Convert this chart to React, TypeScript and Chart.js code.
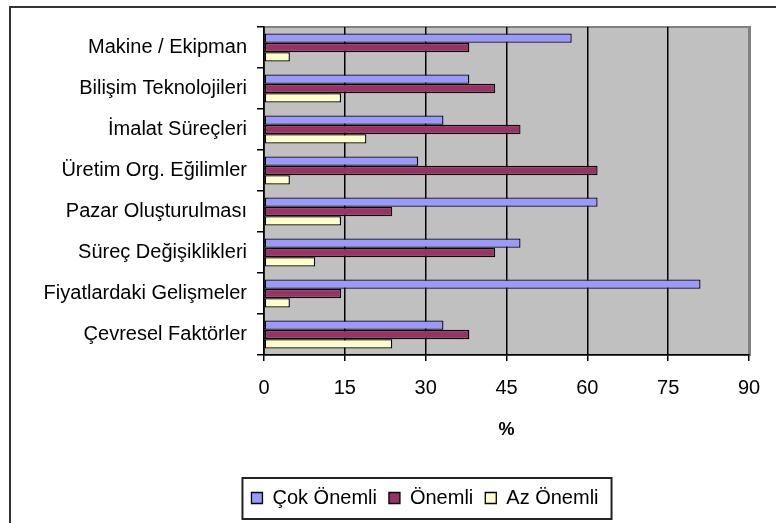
import React, { useEffect, useRef } from "react";
import { Chart, registerables } from "chart.js";

Chart.register(...registerables);

const categories = [
  "Makine / Ekipman",
  "Bilişim Teknolojileri",
  "İmalat Süreçleri",
  "Üretim Org. Eğilimler",
  "Pazar Oluşturulması",
  "Süreç Değişiklikleri",
  "Fiyatlardaki Gelişmeler",
  "Çevresel Faktörler",
];

const seriesNames = ["Çok Önemli", "Önemli", "Az Önemli"];
const cokOnemli = [57.1, 38.1, 33.3, 28.6, 61.9, 47.6, 81.0, 33.3];
const onemli = [38.1, 42.9, 47.6, 61.9, 23.8, 42.9, 14.3, 38.1];
const azOnemli = [4.8, 14.3, 19.0, 4.8, 14.3, 9.5, 4.8, 23.8];

const xMin = 0;
const xMax = 90;
const xStep = 15;
const xTitle = "%";

const FONT = "'Liberation Sans', Arial, sans-serif";
const LEGEND_PAD = 12;
const LEGEND_FONT = 20;

const plotBgPlugin = {
  id: "plotBg",
  beforeDraw(chart: any) {
    const { ctx, chartArea } = chart;
    if (!chartArea) return;
    ctx.save();
    ctx.fillStyle = "#C0C0C0";
    ctx.fillRect(chartArea.left, chartArea.top, chartArea.right - chartArea.left, chartArea.bottom - chartArea.top);
    ctx.strokeStyle = "#808080";
    ctx.lineWidth = 2;
    ctx.strokeRect(chartArea.left, chartArea.top, chartArea.right - chartArea.left + 1, chartArea.bottom - chartArea.top);
    ctx.restore();
  },
};

// shift the legend's horizontal span so its centre sits where the reference has it
const legendShiftPlugin = {
  id: "legendShift",
  afterLayout(chart: any) {
    const lg = chart.legend;
    if (!lg) return;
    lg.left = 101;
    lg.right = 749;
    lg.width = lg.right - lg.left;
  },
};

const legendBoxPlugin = {
  id: "legendBox",
  afterDraw(chart: any) {
    const lg = chart.legend;
    if (!lg || !lg.lineWidths) return;
    const lw = lg.lineWidths[0];
    const startX = (lg.left + LEGEND_PAD + lg.right - lw) / 2;
    const left = startX - 9;
    const right = startX + lw - LEGEND_PAD + 13;
    const cy = lg.top + LEGEND_PAD + LEGEND_FONT / 2;
    const top = cy - 20;
    const bottom = cy + 21;
    const { ctx } = chart;
    ctx.save();
    ctx.strokeStyle = "#222";
    ctx.lineWidth = 2;
    ctx.strokeRect(left, top, right - left, bottom - top);
    ctx.restore();
  },
};

export default function App() {
  const ref = useRef<HTMLCanvasElement | null>(null);

  useEffect(() => {
    if (!ref.current) return;
    const chart = new Chart(ref.current, {
      type: "bar",
      data: {
        labels: categories,
        datasets: [
          { label: seriesNames[0], data: cokOnemli, backgroundColor: "#9999FF" },
          { label: seriesNames[1], data: onemli, backgroundColor: "#993366" },
          { label: seriesNames[2], data: azOnemli, backgroundColor: "#FFFFCC" },
        ].map((d) => ({
          ...d,
          borderColor: "#000",
          borderWidth: 1.3,
          borderSkipped: false,
          categoryPercentage: 0.68,
          barPercentage: 1,
        })),
      },
      options: {
        indexAxis: "y",
        responsive: false,
        animation: false,
        layout: { padding: { left: 16, right: 27, top: 27, bottom: 5 } },
        plugins: {
          tooltip: { enabled: false },
          legend: {
            position: "bottom",
            labels: {
              boxWidth: 11,
              boxHeight: 11,
              padding: LEGEND_PAD,
              color: "#000",
              font: { family: FONT, size: LEGEND_FONT },
            },
          },
        },
        scales: {
          x: {
            type: "linear",
            min: xMin,
            max: xMax,
            ticks: { stepSize: xStep, color: "#000", padding: 15, font: { family: FONT, size: 20 } },
            grid: {
              color: (c: any) => (c.tick && c.tick.value === xMax ? "#808080" : "#000"),
              lineWidth: 1.5,
              tickLength: 6,
              tickColor: "#000",
              tickWidth: 1.5,
            },
            border: { display: true, color: "#000", width: 1.5 },
            title: {
              display: true,
              text: xTitle,
              color: "#000",
              font: { family: FONT, size: 18, weight: "bold" },
              padding: { top: 35, bottom: 35 },
            },
            afterFit: (scale: any) => {
              scale.height = 121;
            },
          },
          y: {
            type: "category",
            ticks: { color: "#000", padding: 10, font: { family: FONT, size: 20 } },
            grid: {
              offset: true,
              drawOnChartArea: false,
              drawTicks: true,
              tickLength: 7,
              color: "#000",
              lineWidth: 1.5,
            },
            border: { display: true, color: "#000", width: 1.5 },
            afterFit: (scale: any) => {
              scale.width = 248;
            },
          },
        },
      },
      plugins: [plotBgPlugin, legendShiftPlugin, legendBoxPlugin],
    } as any);
    return () => chart.destroy();
  }, []);

  return (
    <div style={{ position: "fixed", left: 0, top: 0, width: 776, height: 523, overflow: "hidden", background: "#fff" }}>
      <div
        style={{
          position: "absolute",
          left: 9,
          top: 6,
          width: 900,
          height: 700,
          borderLeft: "2px solid #333",
          borderTop: "2px solid #333",
        }}
      />
      <canvas ref={ref} width={776} height={523} style={{ position: "absolute", left: 0, top: 0, width: 776, height: 523 }} />
    </div>
  );
}
